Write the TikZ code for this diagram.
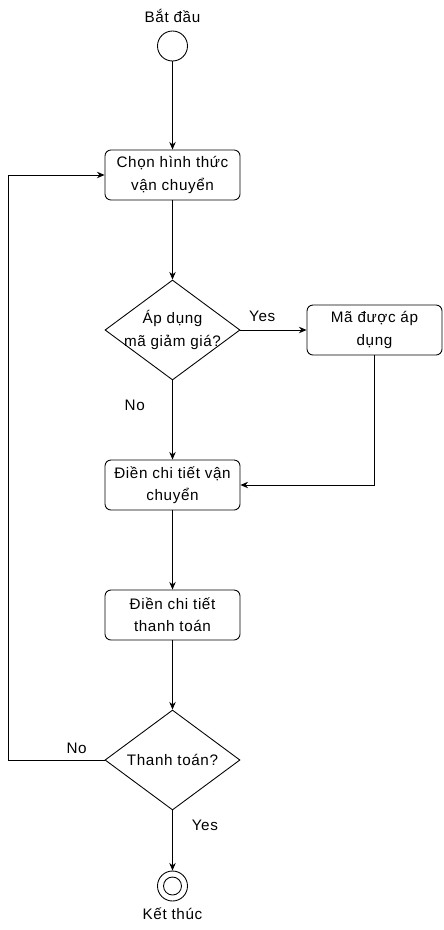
\documentclass[tikz,border=0pt]{standalone}
\usepackage{fontspec}
\setmainfont{Liberation Sans}[LetterSpace=4]
\usetikzlibrary{shapes.geometric,arrows.meta}

\begin{document}
\begin{tikzpicture}[
    x=0.03cm, y=-0.03cm,
    font=\fontsize{13}{19}\selectfont,
    line width=0.75pt,
    process/.style={rectangle, draw, rounded corners=0.18cm, minimum width=4.05cm, minimum height=1.5cm, align=center, inner sep=1pt},
    decision/.style={diamond, draw, minimum width=4.05cm, minimum height=3cm, inner sep=0pt},
    startend/.style={circle, draw, minimum size=0.9cm, inner sep=0pt},
    arrow/.style={-{Stealth[length=6.5pt,width=5.5pt]}}
]
\useasboundingbox (0,0) rectangle (443,930);

\node (startlabel) at (172.5,16) {Bắt đầu};
\node[startend] (start) at (172.5,46) {};

\node[process] (choose) at (172.5,175) {Chọn hình thức\\vận chuyển};

\node[decision] (coupon) at (172.5,330) {};
\node[align=center] (coupontext) at (coupon) {Áp dụng\\mã giảm giá?};

\node[process] (applied) at (374.5,330) {Mã được áp\\dụng};

\node[process] (shipping) at (172.5,485) {Điền chi tiết vận\\chuyển};

\node[process] (payment) at (172.5,615) {Điền chi tiết\\thanh toán};

\node[decision] (paid) at (172.5,760) {};
\node (paidtext) at (paid) {Thanh toán?};

\node[startend] (finish) at (172.5,886) {};
\node[circle, draw, minimum size=0.54cm, inner sep=0pt] (finishdot) at (finish) {};
\node (finishlabel) at (172.5,914) {Kết thúc};

\coordinate (loop) at (8,760);

\draw[arrow] (start) -- (choose);
\draw[arrow] (choose) -- (coupon);
\draw[arrow] (coupon) -- node[above=3pt, pos=0.33] {Yes} (applied);
\draw[arrow] (coupon) -- node[left=0.7cm, pos=0.31] {No} (shipping);
\draw[arrow] (applied.south) |- (shipping.east);
\draw[arrow] (shipping) -- (payment);
\draw[arrow] (payment) -- (paid);
\draw[arrow] (paid.west) -- node[above=2pt, pos=0.29] {No} (loop) |- (choose.west);
\draw[arrow] (paid) -- node[right=0.45cm, pos=0.25] {Yes} (finish);

\end{tikzpicture}
\end{document}
